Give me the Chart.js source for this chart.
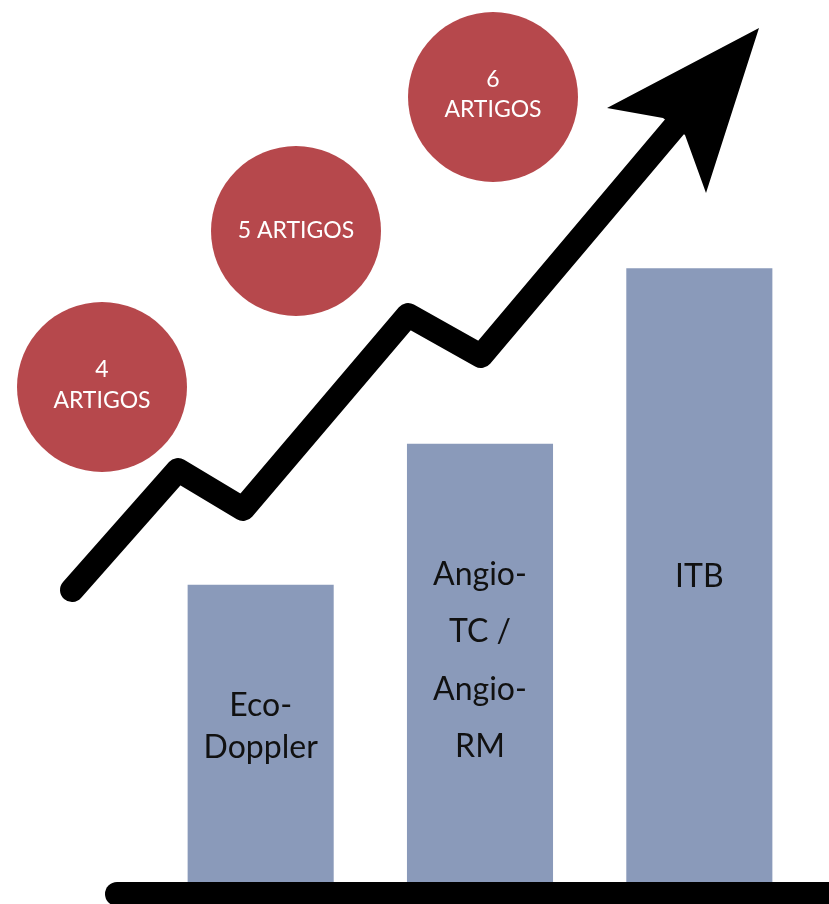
<!DOCTYPE html>
<html>
<head>
<meta charset="utf-8">
<script src="https://cdn.jsdelivr.net/npm/chart.js@4/dist/chart.umd.min.js"></script>
<style>
html,body{margin:0;padding:0;background:#ffffff;}
canvas{display:block;}
</style>
</head>
<body>
<canvas id="c" width="829" height="904"></canvas>
<script>
// ---- data ----
const categories = ["Eco-Doppler", "Angio-TC / Angio-RM", "ITB"];
const barValues = [3.37, 4.97, 6.96];
const barLabelLines = [["Eco-", "Doppler"], ["Angio-", "TC /", "Angio-", "RM"], ["ITB"]];
const circleLabels = [["4", "ARTIGOS"], ["5 ARTIGOS"], ["6", "ARTIGOS"]];
const articleCounts = [4, 5, 6];
// overlay (drawn on hidden linear axes)
const circleX = [102, 296, 493];
const circleY = [387, 231, 97];
const arrowX = [72, 178, 243, 408, 481, 676];
const arrowY = [590, 470, 509, 315, 356, 125];
const headX = [759, 607, 663, 685, 706];
const headY = [28, 108, 118, 135, 193];

const BAR_COLOR = "#8a9aba";
const RED = "#b6484c";
const FONT = "Lato, 'Open Sans', sans-serif";

const labelLayout = {
  barLineY: [[706, 748], [575, 632, 690, 747], [577]],
  circleLineDy: [[-17, 14], [0], [-17, 13]]
};

const overlayPlugin = {
  id: "overlay",
  afterDatasetsDraw(chart) {
    const ctx = chart.ctx;
    const x2 = chart.scales.x2, y2 = chart.scales.y2, y = chart.scales.y;
    // arrow head
    ctx.save();
    ctx.fillStyle = "#000";
    ctx.beginPath();
    headX.forEach((hx, i) => {
      const px = x2.getPixelForValue(hx), py = y2.getPixelForValue(headY[i]);
      if (i === 0) ctx.moveTo(px, py); else ctx.lineTo(px, py);
    });
    ctx.closePath();
    ctx.fill();
    // baseline
    const by = y.getPixelForValue(0) + 12;
    ctx.strokeStyle = "#000";
    ctx.lineWidth = 24;
    ctx.lineCap = "round";
    ctx.beginPath();
    ctx.moveTo(117, by);
    ctx.lineTo(860, by);
    ctx.stroke();
    // bar labels
    const barMeta = chart.getDatasetMeta(0);
    ctx.fillStyle = "#111";
    ctx.font = "32px " + FONT;
    ctx.textAlign = "center";
    ctx.textBaseline = "middle";
    barMeta.data.forEach((el, i) => {
      barLabelLines[i].forEach((t, j) => {
        ctx.fillText(t, el.x, y2.getPixelForValue(labelLayout.barLineY[i][j]));
      });
    });
    // circle labels
    const bubMeta = chart.getDatasetMeta(1);
    ctx.fillStyle = "#ffffff";
    ctx.font = "23px " + FONT;
    bubMeta.data.forEach((el, i) => {
      circleLabels[i].forEach((t, j) => {
        ctx.fillText(t, el.x, el.y + labelLayout.circleLineDy[i][j]);
      });
    });
    ctx.restore();
  }
};

new Chart(document.getElementById("c"), {
  type: "bar",
  data: {
    labels: categories,
    datasets: [
      {
        type: "bar",
        label: "Exames",
        data: barValues,
        backgroundColor: BAR_COLOR,
        borderWidth: 0,
        grouped: false,
        barPercentage: 1,
        categoryPercentage: 0.666,
        xAxisID: "x",
        yAxisID: "y",
        order: 3
      },
      {
        type: "bubble",
        label: "Artigos",
        data: circleX.map((cx, i) => ({ x: cx, y: circleY[i], r: 85, n: articleCounts[i] })),
        backgroundColor: RED,
        borderWidth: 0,
        hoverRadius: 0,
        xAxisID: "x2",
        yAxisID: "y2",
        clip: false,
        order: 2
      },
      {
        type: "line",
        label: "Tendência",
        data: arrowX.map((ax, i) => ({ x: ax, y: arrowY[i] })),
        borderColor: "#000",
        borderWidth: 24,
        borderJoinStyle: "round",
        borderCapStyle: "round",
        tension: 0,
        pointRadius: 0,
        fill: false,
        xAxisID: "x2",
        yAxisID: "y2",
        clip: false,
        order: 1
      }
    ]
  },
  options: {
    responsive: false,
    animation: false,
    layout: { autoPadding: false, padding: { left: 151, right: 20, top: 0, bottom: 22 } },
    plugins: { legend: { display: false }, tooltip: { enabled: false }, title: { display: false } },
    scales: {
      x: { type: "category", display: false, grid: { display: false } },
      y: { type: "linear", display: false, min: 0, max: 10, grid: { display: false } },
      x2: { type: "linear", display: false, offset: false, min: 151, max: 809, grid: { display: false, offset: false } },
      y2: { type: "linear", display: false, offset: false, min: 0, max: 882, reverse: true, grid: { display: false } }
    }
  },
  plugins: [overlayPlugin]
});
</script>
</body>
</html>
